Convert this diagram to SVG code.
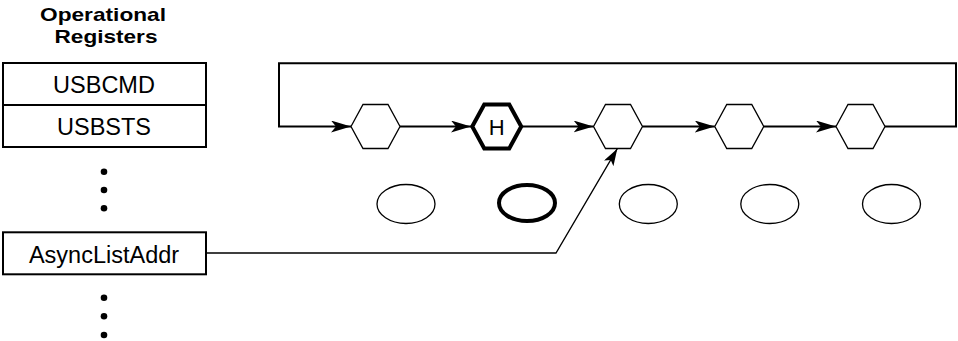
<svg xmlns="http://www.w3.org/2000/svg" width="958" height="341" viewBox="0 0 958 341">
  <style>
    .title { font-family: "Liberation Sans", Arial, sans-serif; font-weight: bold; font-size: 19px; text-anchor: middle; fill: #000; }
    .lbl { font-family: "Liberation Sans", Arial, sans-serif; font-size: 23.5px; text-anchor: middle; fill: #000; }
    .hlbl { font-family: "Liberation Sans", Arial, sans-serif; font-size: 22px; text-anchor: middle; fill: #000; }
    .box { fill: #fff; stroke: #000; stroke-width: 2; }
    .hex { fill: #fff; stroke: #000; stroke-width: 1.3; stroke-linejoin: miter; }
    .hexH { fill: #fff; stroke: #000; stroke-width: 4; stroke-linejoin: miter; }
    .ell { fill: #fff; stroke: #000; stroke-width: 1.3; }
    .ellH { fill: #fff; stroke: #000; stroke-width: 4; }
    .conn { fill: none; stroke: #000; stroke-width: 2; }
    .thin { fill: none; stroke: #000; stroke-width: 1.3; }
    .dot { fill: #000; }
  </style>
  <defs>
    <marker id="arr" viewBox="0 0 20 12" refX="20" refY="6" markerWidth="20" markerHeight="12" markerUnits="userSpaceOnUse" orient="auto">
      <path d="M0,0 L20,6 L0,12 L5,6 Z" fill="#000"/>
    </marker>
    <marker id="arrS" viewBox="0 0 17 11" refX="17" refY="5.5" markerWidth="17" markerHeight="11" markerUnits="userSpaceOnUse" orient="auto">
      <path d="M0,0 L17,5.5 L0,11 L4,5.5 Z" fill="#000"/>
    </marker>
    <polygon id="hexShape" points="-24.5,0 -12.5,-22 12.5,-22 24.5,0 12.5,22 -12.5,22"/>
  </defs>

  <g id="title">
    <text class="title" x="103" y="20.5" textLength="126" lengthAdjust="spacingAndGlyphs">Operational</text>
    <text class="title" x="106" y="42.5" textLength="103" lengthAdjust="spacingAndGlyphs">Registers</text>
  </g>

  <g id="usbcmd">
    <rect class="box" x="3" y="63" width="203" height="42"/>
    <text class="lbl" x="104" y="93">USBCMD</text>
  </g>
  <g id="usbsts">
    <rect class="box" x="3" y="105" width="203" height="42"/>
    <text class="lbl" x="104" y="135">USBSTS</text>
  </g>

  <g id="dots-upper">
    <circle class="dot" cx="104" cy="171.7" r="3.3"/>
    <circle class="dot" cx="104" cy="190" r="3.3"/>
    <circle class="dot" cx="104" cy="208.3" r="3.3"/>
  </g>

  <g id="asynclistaddr">
    <rect class="box" x="3" y="232.3" width="203" height="42"/>
    <text class="lbl" x="104" y="262.5">AsyncListAddr</text>
  </g>

  <g id="dots-lower">
    <circle class="dot" cx="104" cy="297.7" r="3.3"/>
    <circle class="dot" cx="104" cy="316.3" r="3.3"/>
    <circle class="dot" cx="104" cy="335" r="3.3"/>
  </g>

  <g id="connectors">
    <path class="conn" d="M885,126.5 H956 V63.3 H279 V126.5 H351" marker-end="url(#arr)"/>
    <path class="conn" d="M400,126.5 H471" marker-end="url(#arr)"/>
    <path class="conn" d="M522.5,126.5 H593.5" marker-end="url(#arr)"/>
    <path class="conn" d="M642.5,126.5 H714.75" marker-end="url(#arr)"/>
    <path class="conn" d="M763.75,126.5 H836" marker-end="url(#arr)"/>
    <path class="thin" d="M206,253 H556 L617.3,148.7" marker-end="url(#arrS)"/>
  </g>

  <g id="qh1">
    <use href="#hexShape" class="hex" x="375.5" y="126.5"/>
    <ellipse class="ell" cx="406" cy="204" rx="29" ry="19.5"/>
  </g>
  <g id="qh2-head">
    <use href="#hexShape" class="hexH" x="496.75" y="126.5"/>
    <text class="hlbl" x="496.75" y="134.5">H</text>
    <ellipse class="ellH" cx="527" cy="203" rx="28" ry="18"/>
  </g>
  <g id="qh3">
    <use href="#hexShape" class="hex" x="618" y="126.5"/>
    <ellipse class="ell" cx="648.3" cy="204" rx="29" ry="19.5"/>
  </g>
  <g id="qh4">
    <use href="#hexShape" class="hex" x="739.25" y="126.5"/>
    <ellipse class="ell" cx="769.8" cy="204" rx="29" ry="19.5"/>
  </g>
  <g id="qh5">
    <use href="#hexShape" class="hex" x="860.5" y="126.5"/>
    <ellipse class="ell" cx="891.5" cy="204" rx="29" ry="19.5"/>
  </g>
</svg>
